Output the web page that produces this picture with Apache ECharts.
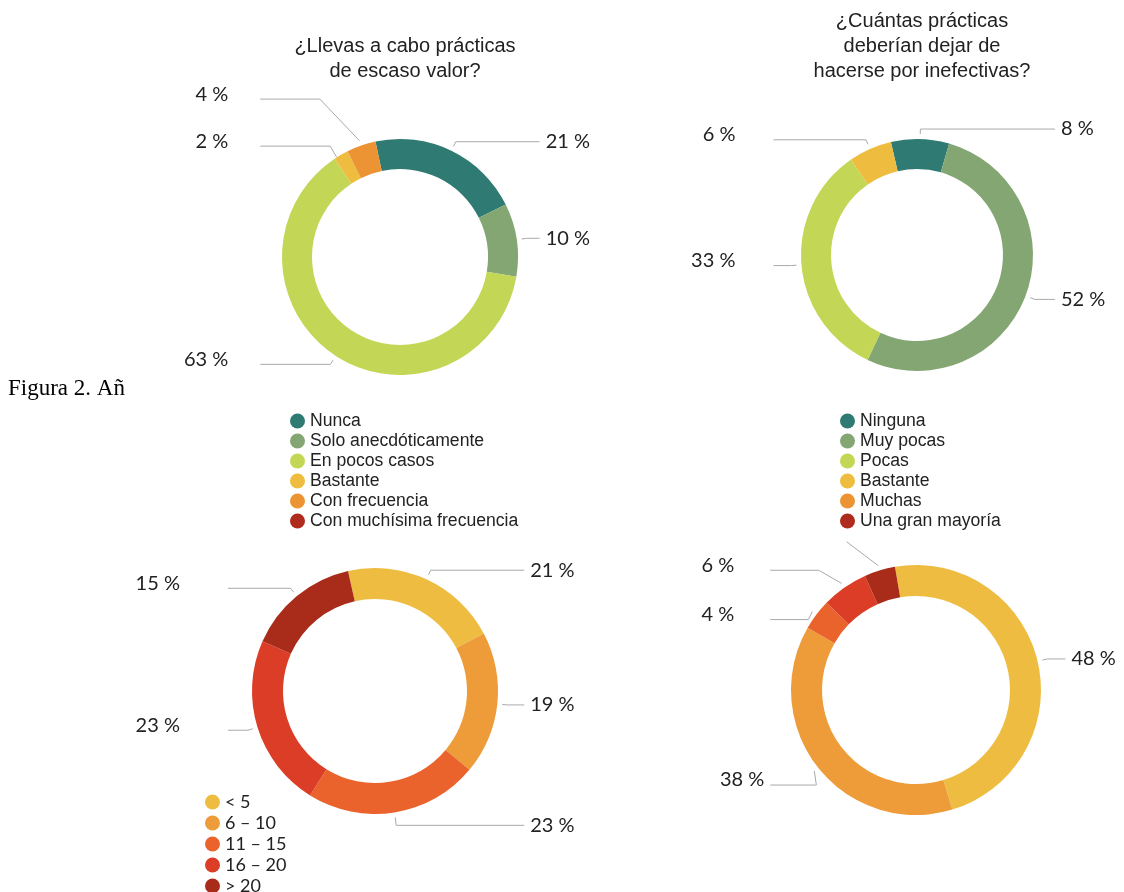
<!DOCTYPE html>
<html>
<head>
<meta charset="utf-8">
<script src="https://cdn.jsdelivr.net/npm/echarts@6/dist/echarts.min.js"></script>
<style>
  html, body { margin: 0; padding: 0; background: #fff; }
  #chart { width: 1124px; height: 892px; }
</style>
</head>
<body>
<div id="chart"></div>
<script>
// ---- Data ----
const tlTitle = '¿Llevas a cabo prácticas\nde escaso valor?';
const tlCategories = ['Nunca', 'Solo anecdóticamente', 'En pocos casos', 'Bastante', 'Con frecuencia', 'Con muchísima frecuencia'];
const tlValues = [21, 10, 63, 2, 4, 0];

const trTitle = '¿Cuántas prácticas\ndeberían dejar de\nhacerse por inefectivas?';
const trCategories = ['Ninguna', 'Muy pocas', 'Pocas', 'Bastante', 'Muchas', 'Una gran mayoría'];
const trValues = [8, 52, 33, 6, 0, 0];

const blCategories = ['< 5', '6 – 10', '11 – 15', '16 – 20', '> 20'];
const blValues = [21, 19, 23, 23, 15];

const brCategories = ['< 5', '6 – 10', '11 – 15', '16 – 20', '> 20'];
const brValues = [48, 38, 4, 6, 4];
const brShowText = [true, true, true, true, false];

const captionText = 'Figura 2. Añ';

// ---- Styles ----
const greenPalette = ['#2F7A72', '#84A673', '#C3D655', '#EEBD3F', '#EC9434', '#AE2B1E'];
const warmPalette = ['#EEBC41', '#EE9B3A', '#EA632D', '#DC3D27', '#A92B1A'];
const labelFont = 'Lato, "Open Sans", sans-serif';
const sansFont = '"Liberation Sans", Arial, Helvetica, sans-serif';

// label nudges (series-data): vertical shift of the label line, horizontal shift of its elbow
const labelTweaks = {
  '0-3': { dy: -12, dx1: -5 },
  '0-4': { dy: -37, dx1: -38 },
  '2-2': { dy: 3 },
  '3-1': { dy: 11, dx1: 6, pad: 0 },
  '3-2': { dy: 11 },
  '3-3': { dy: -9, dx1: -20 },
  '3-4': { dy: -19, dx1: -30, lineOnly: true }
};

function buildData(sIdx, cats, vals, colors, startAngle, leftPad, leftLen2, rightLen2, showText) {
  const total = vals.reduce((a, b) => a + b, 0);
  let cum = 0;
  return cats.map((name, i) => {
    const v = vals[i];
    const mid = (startAngle - 360 * (cum + v / 2) / total) * Math.PI / 180;
    cum += v;
    const isLeft = Math.cos(mid) < 0;
    const show = v > 0;
    const txt = showText ? showText[i] : true;
    const tw = labelTweaks[sIdx + '-' + i] || {};
    const pad = tw.pad != null ? tw.pad : leftPad;
    return {
      name: name,
      value: v,
      itemStyle: { color: colors[i] },
      label: {
        show: show,
        formatter: txt ? '{c} %' : '',
        padding: isLeft ? [0, pad, 0, 0] : [0, 0, 0, 0]
      },
      labelLine: { show: show, length2: isLeft ? leftLen2 : rightLen2 }
    };
  });
}

function labelLayoutFn(p) {
  const pts = p.labelLinePoints;
  if (!pts || pts.length < 3) return {};
  const t = labelTweaks[p.seriesIndex + '-' + p.dataIndex] || {};
  const dy = t.dy || 0, dx1 = t.dx1 || 0;
  const p0 = pts[0], p1 = pts[1], p2 = pts[2];
  const vx = p1[0] - p0[0], vy = p1[1] - p0[1];
  const len = Math.hypot(vx, vy) || 1;
  const gap = 5;
  const q0 = [p0[0] + vx / len * gap, p0[1] + vy / len * gap];
  const q1 = [p1[0] + dx1, p1[1] + dy];
  const q2 = [p2[0], p2[1] + dy];
  const isLeft = p2[0] < p0[0];
  return {
    y: q2[1] - (isLeft ? 5 : 0),
    labelLinePoints: t.lineOnly ? [q0, q1] : [q0, q1, q2]
  };
}

function pieSeries(center, radius, startAngle, data) {
  return {
    type: 'pie',
    center: center,
    radius: radius,
    startAngle: startAngle,
    clockwise: true,
    avoidLabelOverlap: true,
    silent: true,
    animation: false,
    label: {
      show: true,
      fontFamily: labelFont,
      fontSize: 20,
      color: '#222',
      alignTo: 'labelLine',
      edgeDistance: 0,
      overflow: 'none',
      distanceToLabelLine: 6
    },
    labelLine: {
      show: true,
      length: 10,
      smooth: false,
      lineStyle: { color: '#aaa', width: 1 }
    },
    labelLayout: labelLayoutFn,
    emphasis: { disabled: true },
    data: data
  };
}

const chart = echarts.init(document.getElementById('chart'), null, { renderer: 'canvas' });

const legendBase = {
  orient: 'vertical',
  icon: 'circle',
  itemWidth: 15,
  itemHeight: 15,
  itemGap: 2,
  height: 160,
  selectedMode: false,
  textStyle: { fontFamily: sansFont, fontSize: 17.6, color: '#222' }
};

chart.setOption({
  backgroundColor: '#fff',
  title: [
    { text: tlTitle, left: 400, top: 29, textAlign: 'center',
      textStyle: { fontFamily: sansFont, fontSize: 20, lineHeight: 25, fontWeight: 'normal', color: '#222' } },
    { text: trTitle, left: 917, top: 4, textAlign: 'center',
      textStyle: { fontFamily: sansFont, fontSize: 20, lineHeight: 25, fontWeight: 'normal', color: '#222' } }
  ],
  legend: [
    Object.assign({}, legendBase, { data: tlCategories, left: 285, top: 407 }),
    Object.assign({}, legendBase, { data: trCategories, left: 835, top: 407 }),
    Object.assign({}, legendBase, { data: blCategories, left: 200, top: 788, itemGap: 3, height: 140,
      textStyle: { fontFamily: labelFont, fontSize: 18, color: '#222' } })
  ],
  graphic: [
    { type: 'text', left: 8, top: 377,
      style: { text: captionText, font: '23px "Liberation Serif", "Times New Roman", serif', fill: '#000' } }
  ],
  series: [
    pieSeries([400, 257], [88, 118], 102, buildData(0, tlCategories, tlValues, greenPalette, 102, 26, 70, 13)),
    pieSeries([917, 255], [86, 116], 103, buildData(1, trCategories, trValues, greenPalette, 103, 32, 18, 20)),
    pieSeries([375, 691], [92, 123], 102.7, buildData(2, blCategories, blValues, warmPalette, 102.7, 42, 20, 17)),
    pieSeries([916, 690], [94, 125], 99.7, buildData(3, brCategories, brValues, warmPalette, 99.7, 30, 38, 18, brShowText))
  ]
});
</script>
</body>
</html>
